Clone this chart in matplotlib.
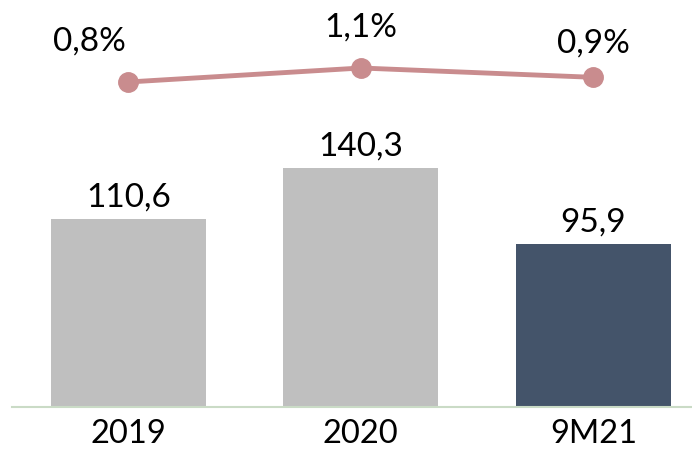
import matplotlib.pyplot as plt
import numpy as np

categories = ['2019', '2020', '9M21']
volumes = [110.6, 140.3, 95.9]
rates = [0.8, 1.1, 0.9]
volume_labels = ['110,6', '140,3', '95,9']
rate_labels = ['0,8%', '1,1%', '0,9%']

bar_colors = ['#BFBFBF', '#BFBFBF', '#44546A']
line_color = '#C98C8E'

plt.rcParams['font.family'] = ['Lato', 'DejaVu Sans']

fig = plt.figure(figsize=(6.92, 4.51), dpi=100)
ax = fig.add_axes([12 / 692, 44 / 451, 680 / 692, 407 / 451])
x = np.arange(len(categories))

bars = ax.bar(x, volumes, width=0.667, color=bar_colors, zorder=2)
ax.set_xlim(-0.5, 2.424)
ax.set_ylim(0, 239.4)

for rect, lab in zip(bars, volume_labels):
    ax.annotate(lab, xy=(rect.get_x() + rect.get_width() / 2, rect.get_height()),
                xytext=(0, 9), textcoords='offset points',
                ha='center', va='baseline', fontsize=24, color='#000000')

ax.set_xticks(x)
ax.set_xticklabels(categories, fontsize=23.5)
ax.tick_params(axis='x', length=0, pad=8.5)
ax.set_yticks([])
for s in ['top', 'right', 'left']:
    ax.spines[s].set_visible(False)
ax.spines['bottom'].set_color('#CADBC6')
ax.spines['bottom'].set_linewidth(1.5)

# rate line on its own scale
ax2 = ax.twinx()
ax2.set_ylim(-6.164, 2.557)
ax2.plot(x, rates, color=line_color, lw=3.5, marker='o', ms=14, zorder=3)
ax2.axis('off')

# label offsets (points), first label sits left of its marker
offsets = [(-28, 23), (0, 23), (0, 18)]
for xi, r, lab, off in zip(x, rates, rate_labels, offsets):
    ax2.annotate(lab, xy=(xi, r), xytext=off, textcoords='offset points',
                 ha='center', va='baseline', fontsize=24, color='#000000')

fig.savefig('out.png', dpi=100)
